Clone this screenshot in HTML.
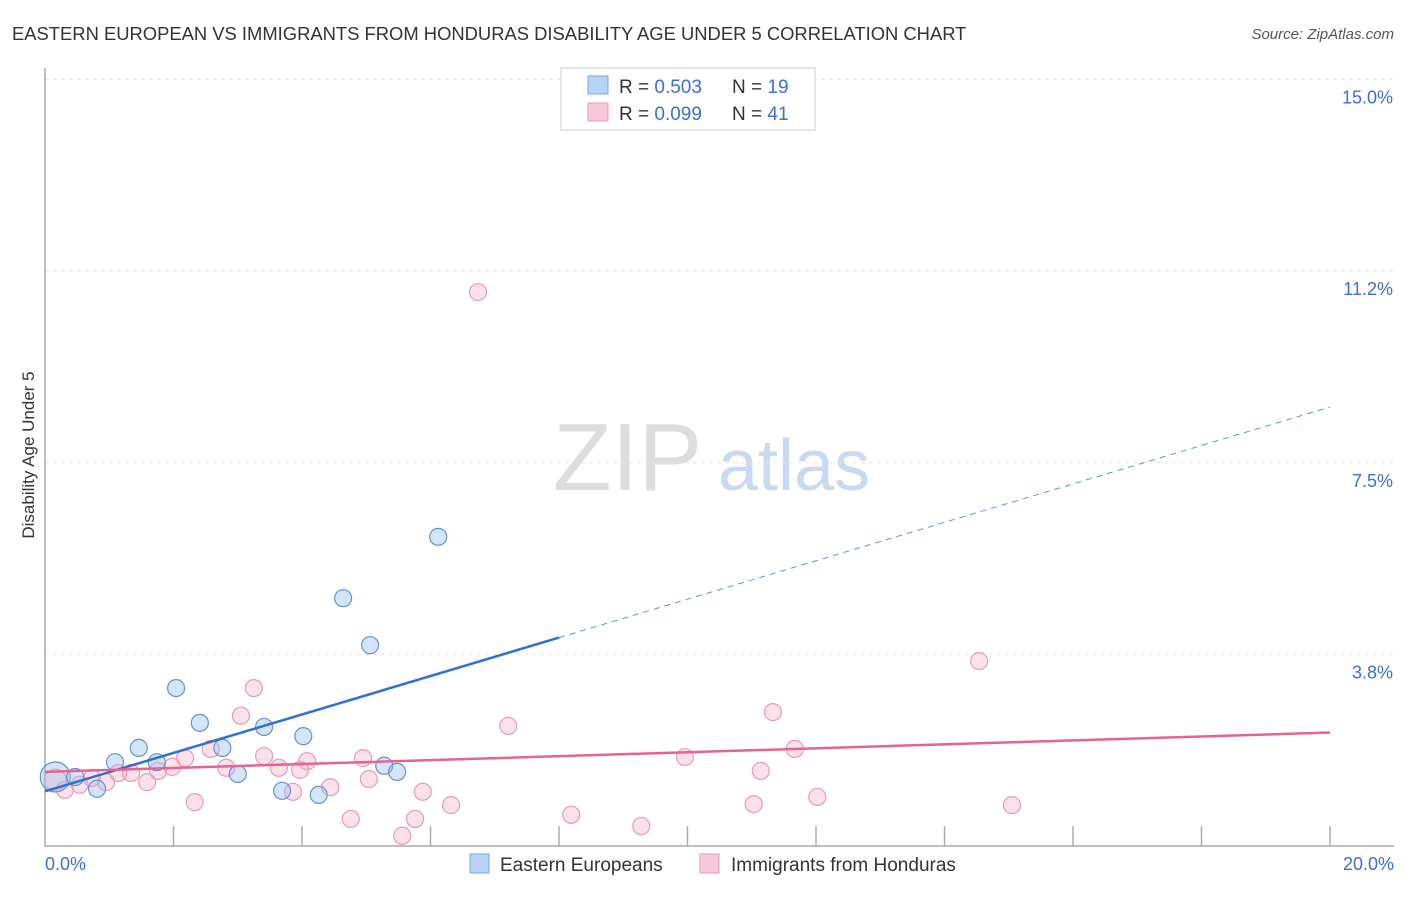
<!DOCTYPE html>
<html><head><meta charset="utf-8"><style>
body{margin:0;background:#fff;font-family:"Liberation Sans",sans-serif}
svg text{font-family:"Liberation Sans",sans-serif}
</style></head><body>
<svg id="c" width="1406" height="892">
<text x="12" y="40" font-size="18.4" fill="#333">EASTERN EUROPEAN VS IMMIGRANTS FROM HONDURAS DISABILITY AGE UNDER 5 CORRELATION CHART</text>
<text x="1394" y="39" font-size="15" fill="#555" font-style="italic" text-anchor="end">Source: ZipAtlas.com</text>
<text x="34" y="455" font-size="17" fill="#333" text-anchor="middle" transform="rotate(-90 34 455)">Disability Age Under 5</text>
<text x="553" y="490" font-size="96" fill="#ddd" font-family="Liberation Serif">ZIP</text>
<text x="718" y="490" font-size="72" fill="#c8daf2">atlas</text>
<g id="grid"></g><g id="pts"></g><g id="lines"></g>
<g>
<rect x="561" y="68" width="254" height="62" fill="#fff" stroke="#ccc"/>
<rect x="588" y="76" width="20" height="18" fill="#b8d4f5" stroke="#7aa6e0"/>
<text x="619" y="93" font-size="19" fill="#333">R = <tspan fill="#3a6fd8">0.503</tspan></text>
<text x="732" y="93" font-size="19" fill="#333">N = <tspan fill="#3a6fd8">19</tspan></text>
<rect x="588" y="103" width="20" height="18" fill="#f9c8d8" stroke="#e89ab4"/>
<text x="619" y="120" font-size="19" fill="#333">R = <tspan fill="#3a6fd8">0.099</tspan></text>
<text x="732" y="120" font-size="19" fill="#333">N = <tspan fill="#3a6fd8">41</tspan></text>
</g>
<g>
<rect x="470" y="854" width="19" height="19" fill="#b8d4f5" stroke="#7aa6e0"/>
<text x="500" y="871" font-size="19" fill="#333">Eastern Europeans</text>
<rect x="700" y="854" width="19" height="19" fill="#f9c8d8" stroke="#e89ab4"/>
<text x="731" y="871" font-size="19" fill="#333">Immigrants from Honduras</text>
</g>
</svg>
<script>
const yTicks=[3.75,7.5,11.25,15];
const yTickLabels=["3.8%","7.5%","11.2%","15.0%"];
const blueX=[0.16,0.47,0.81,1.09,1.46,1.74,2.04,2.41,2.76,3.0,3.41,3.69,4.02,4.26,4.64,5.06,5.28,5.48,6.12];
const blueY=[1.35,1.35,1.12,1.64,1.92,1.64,3.09,2.41,1.92,1.41,2.33,1.08,2.15,1.0,4.85,3.93,1.57,1.45,6.05];
const pinkX=[0.16,0.31,0.54,0.95,1.14,1.34,1.59,1.76,1.98,2.18,2.33,2.58,2.82,3.05,3.25,3.41,3.64,3.86,4.08,4.44,4.76,4.95,5.04,5.56,5.76,5.88,6.32,6.74,7.21,8.19,9.28,9.96,11.03,11.14,11.33,11.67,12.02,14.54,15.05,0.73,3.97];
const pinkY=[1.29,1.1,1.2,1.25,1.43,1.43,1.25,1.47,1.55,1.72,0.86,1.9,1.53,2.55,3.09,1.76,1.53,1.06,1.66,1.15,0.53,1.72,1.31,0.2,0.53,1.06,0.8,10.84,2.35,0.61,0.39,1.74,0.82,1.47,2.62,1.9,0.96,3.62,0.8,1.33,1.49];
const blueFit=[1.07,0.376];
const pinkFit=[1.45,0.0385];
const ns="http://www.w3.org/2000/svg";
const X=v=>45+v*64.25, Y=v=>846-v*51.1;
function mk(t,a,p){const e=document.createElementNS(ns,t);for(const k in a)e.setAttribute(k,a[k]);p.appendChild(e);return e;}
const g=document.getElementById('grid');
yTicks.forEach((t,i)=>{
 const l=mk('line',{x1:45,x2:1394,y1:Y(t),y2:Y(t),stroke:'#e4e4e4','stroke-dasharray':'4,4'},g);
 
 
 const tx=mk('text',{x:1393,y:Y(t)+24,'font-size':18,fill:'#3a6fd8','text-anchor':'end'},g);tx.textContent=yTickLabels[i];
 
 
});
const ax=mk('path',{d:'M45 68V846H1394',fill:'none',stroke:'#aaa','stroke-width':1.5},g);


for(let i=1;i<=10;i++){const t=mk('line',{x1:X(i*2),x2:X(i*2),y1:826,y2:846,stroke:'#aaa','stroke-width':1.5},g);
 
 }
[["0.0%",45,'start'],["20.0%",1394,'end']].forEach(a=>{const t=mk('text',{x:a[1],y:870,'font-size':18,fill:'#3a6fd8','text-anchor':a[2]},g);t.textContent=a[0];
 
 });
const p=document.getElementById('pts');
pinkX.forEach((x,i)=>{const c=mk('circle',{cx:X(x),cy:Y(pinkY[i]),r:i==0?11:8.5,fill:'rgba(246,170,196,0.35)',stroke:'#e99ab5','stroke-width':1.2},p);
 
 });
blueX.forEach((x,i)=>{const c=mk('circle',{cx:X(x),cy:Y(blueY[i]),r:i==0?15:8.5,fill:'rgba(150,190,240,0.4)',stroke:'#5f93d8','stroke-width':1.2},p);
 
 });
const L=document.getElementById('lines');
const b1=mk('line',{x1:X(0),y1:Y(blueFit[0]),x2:X(8),y2:Y(blueFit[0]+8*blueFit[1]),stroke:'#2f6fd6','stroke-width':2.5},L);


const b2=mk('line',{x1:X(8),y1:Y(blueFit[0]+8*blueFit[1]),x2:X(20),y2:Y(blueFit[0]+20*blueFit[1]),stroke:'#5f93d8','stroke-width':1,'stroke-dasharray':'6,5'},L);


const p1=mk('line',{x1:X(0),y1:Y(pinkFit[0]),x2:X(20),y2:Y(pinkFit[0]+20*pinkFit[1]),stroke:'#e5648f','stroke-width':2.5},L);


</script>
</body></html>
